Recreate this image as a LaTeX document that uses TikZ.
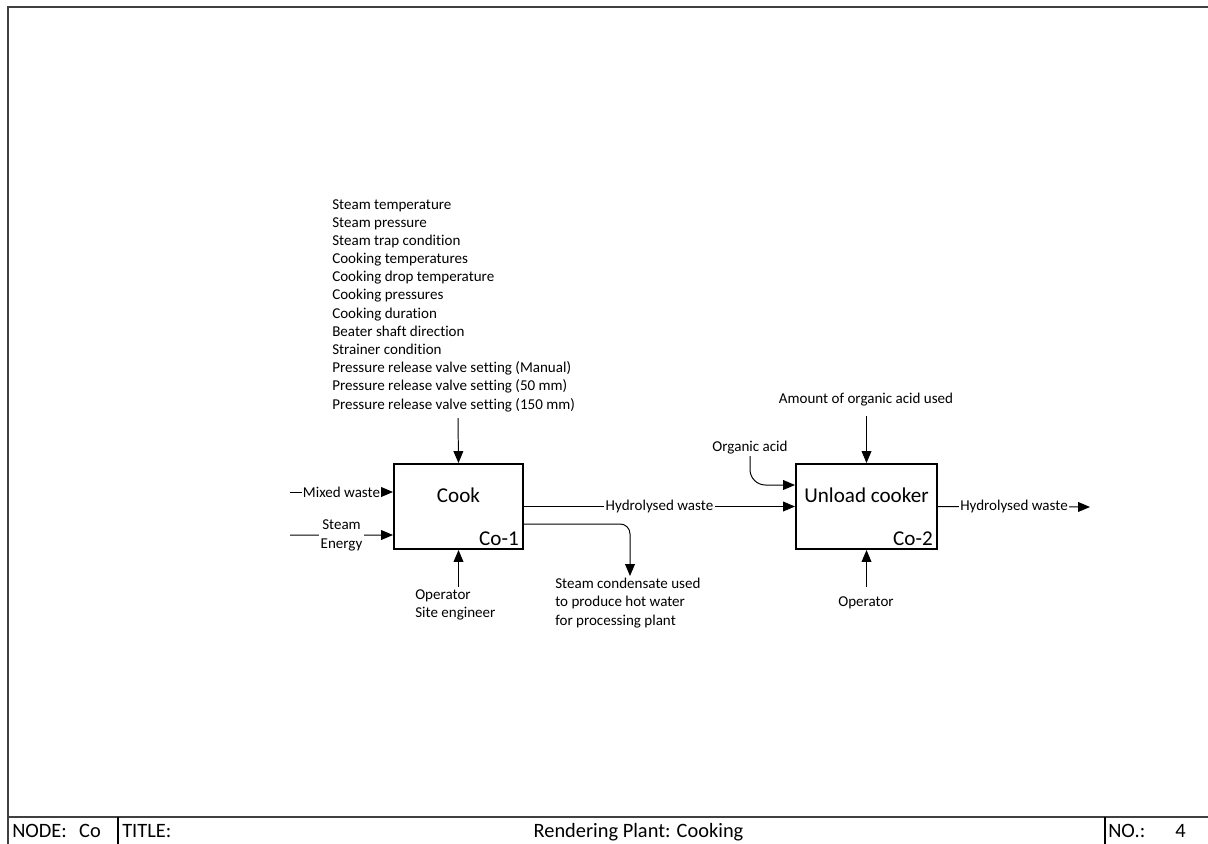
\documentclass[tikz,border=0pt]{standalone}
\usepackage{fontspec}
\setmainfont{Carlito}[Ligatures=NoCommon]
\usetikzlibrary{arrows.meta,calc,positioning}

\begin{document}
\begin{tikzpicture}[x=0.025cm, y=-0.025cm,
	func/.style={draw, line width=1.4pt, minimum height=2.125cm},
	boxtitle/.style={font=\fontsize{15}{17}\selectfont, inner sep=0pt},
	boxno/.style={font=\fontsize{15}{17}\selectfont, inner sep=0pt, anchor=base east},
	lbl/.style={font=\fontsize{10.7}{12.93}\selectfont, inner sep=1pt},
	onln/.style={lbl, fill=white},
	foot/.style={font=\fontsize{14.5}{16}\selectfont, inner sep=0pt, anchor=base west},
	flow/.style={-{Triangle[length=8.5pt,width=7pt]}, line width=0.7pt}]
		\useasboundingbox (0,0) rectangle (1208,843);

		% sheet frame and title bar
		\draw[line width=1.3pt, black!75] (8,850) -- (8,7) -- (1215,7);
		\draw[line width=1pt, black!75] (8,817) -- (1215,817);
		\draw[line width=0.8pt] (118,817) -- (118,850);
		\draw[line width=0.8pt] (1105,817) -- (1105,850);
		\node[foot] (fnode) at (12,837) {NODE:\hspace{0.6em}Co};
		\node[foot] (ftitle) at (122,837) {TITLE:};
		\node[foot, anchor=base] (fname) at (638.5,837) {Rendering Plant: Cooking};
		\node[foot] (fno) at (1108,837) {NO.:};
		\node[foot] (fnum) at (1175,837) {4};

		% activities
		\node[func, minimum width=3.225cm] (cook) at (458.5,506.5) {};
		\node[boxtitle] (cooktxt) at ($(cook.north)+(0,32)$) {Cook};
		\node[boxno] (cookno) at ($(cook.south east)+(-5,-5)$) {Co-1};

		\node[func, minimum width=3.525cm] (unload) at (866.5,506.5) {};
		\node[boxtitle] (unloadtxt) at ($(unload.north)+(0,32)$) {Unload cooker};
		\node[boxno] (unloadno) at ($(unload.south east)+(-5,-5)$) {Co-2};

		% controls
		\node[lbl, anchor=north west, align=left, inner sep=0pt] (cookctrl) at (332,199) {Steam temperature\\
			Steam pressure\\ Steam trap condition\\ Cooking temperatures\\
			Cooking drop temperature\\ Cooking pressures\\ Cooking duration\\
			Beater shaft direction\\ Strainer condition\\
			Pressure release valve setting (Manual)\\
			Pressure release valve setting (50 mm)\\
			Pressure release valve setting (150 mm)};
		\coordinate (cc) at (458,418);
		\draw[flow] (cc) -- (cook.north);

		\node[lbl] (unloadctrl) at (866,400) {Amount of organic acid used};
		\coordinate (uc) at (866.5,416);
		\draw[flow] (uc) -- (unload.north);

		% inputs
		\coordinate (mw) at (290,492);
		\draw[flow] (mw) -- ($(cook.west)+(0,-14.5)$) node[onln, pos=0.5] (mwtxt) {Mixed waste};
		\coordinate (se) at (290,535);
		\draw[flow] (se) -- ($(cook.west)+(0,28.5)$) node[onln, pos=0.5, align=center, font=\fontsize{10.7}{13.5}\selectfont] (setxt) {Steam\\ Energy};

		\node[lbl] (oa) at (750,448) {Organic acid};
		\draw[flow, rounded corners=11pt] (oa.south) |- ($(unload.west)+(0,-21.5)$);

		% outputs
		\draw[flow] (cook.east) -- (unload.west) node[onln, pos=0.5] (hw1) {Hydrolysed waste};
		\coordinate (hwend) at (1090,507);
		\draw[flow] (unload.east) -- (hwend) node[onln, pos=0.5] (hw2) {Hydrolysed waste};

		\node[lbl, anchor=north west, align=left, inner sep=0pt] (cond) at (555,578) {Steam condensate used\\
			to produce hot water\\ for processing plant};
		\coordinate (condend) at (630,576);
		\draw[flow, rounded corners=7pt] ($(cook.east)+(0,17.5)$) -| (condend);

		% mechanisms
		\node[lbl, anchor=north west, align=left, inner sep=0pt] (cookmech) at (415,589) {Operator\\ Site engineer};
		\coordinate (cm) at (458.5,587);
		\draw[flow] (cm) -- (cook.south);

		\node[lbl] (unloadmech) at (866,603) {Operator};
		\coordinate (um) at (866.5,587);
		\draw[flow] (um) -- (unload.south);
	\end{tikzpicture}
\end{document}
